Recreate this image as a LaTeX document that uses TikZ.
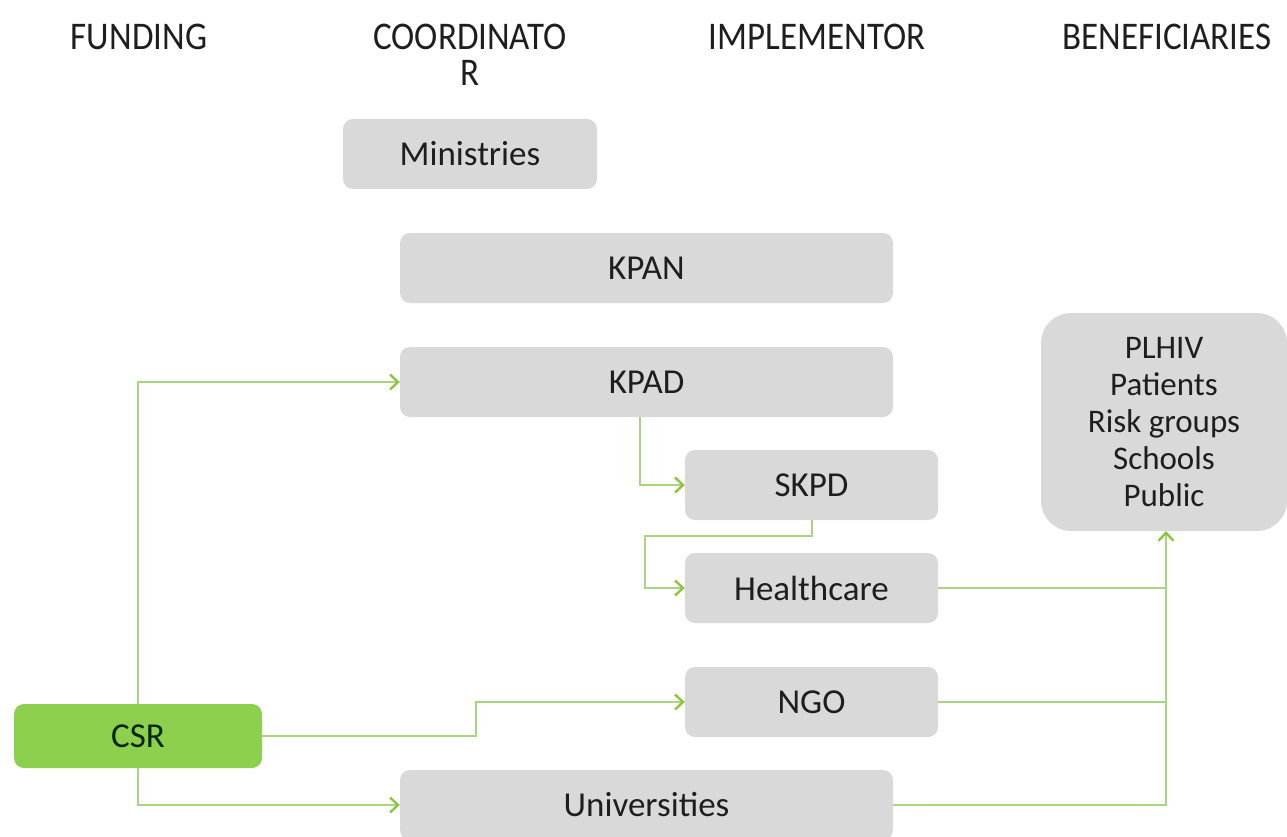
\documentclass[tikz,border=0pt]{standalone}
\usepackage{fontspec}
\usepackage{graphicx}
\setmainfont{Carlito}
\usetikzlibrary{arrows.meta}
\definecolor{boxgray}{HTML}{D9D9D9}
\definecolor{csrgreen}{HTML}{8DD04E}
\definecolor{linegreen}{HTML}{A9D481}
\definecolor{tipgreen}{HTML}{8CC63F}
\definecolor{txt}{HTML}{1E1E1E}
\newcommand\hdrtext[1]{\scalebox{1}[1.12]{#1}}
\tikzset{
  gbox/.style={fill=boxgray, rounded corners=10pt, inner sep=0pt, text=txt, font=\fontsize{35}{40}\selectfont},
  hdr/.style={text=txt, font=\fontsize{35}{43}\selectfont, align=center, inner sep=0pt, anchor=base},
  conn/.style={draw=linegreen, line width=1.5pt},
  arr/.style={conn, -{Straight Barb[length=8pt,width=15pt,line width=2.4pt,color=tipgreen]}}
}
\begin{document}
\begin{tikzpicture}[x=1pt,y=-1pt]
\useasboundingbox (0,0) rectangle (1287,837);
\node[hdr] (h1) at (139,50) {\hdrtext{FUNDING}};
\node[hdr] (h2) at (470,50) {\hdrtext{COORDINATO}};
\node[hdr] (h2b) at (470,86) {\hdrtext{R}};
\node[hdr] (h3) at (817,50) {\hdrtext{IMPLEMENTOR}};
\node[hdr] (h4) at (1167,50) {\hdrtext{BENEFICIARIES}};

\node[gbox, minimum width=254pt, minimum height=70pt] (min) at (470,154) {Ministries};
\node[gbox, minimum width=493pt, minimum height=70pt] (kpan) at (646.5,268) {KPAN};
\node[gbox, minimum width=493pt, minimum height=70pt] (kpad) at (646.5,382) {KPAD};
\node[gbox, minimum width=253pt, minimum height=70pt] (skpd) at (811.5,485) {SKPD};
\node[gbox, minimum width=253pt, minimum height=70pt] (hc) at (811.5,588) {Healthcare};
\node[gbox, minimum width=253pt, minimum height=70pt] (ngo) at (811.5,702) {NGO};
\node[gbox, minimum width=493pt, minimum height=70pt] (uni) at (646.5,805) {Universities};
\node[gbox, fill=csrgreen, minimum width=248pt, minimum height=64pt, text=black!85!green] (csr) at (138,736) {CSR};
\node[gbox, rounded corners=30pt, minimum width=246pt, minimum height=218pt, align=center,
      font=\fontsize{33}{37}\selectfont] (ben) at (1164,422) {PLHIV\\Patients\\Risk groups\\Schools\\Public};

\coordinate (j) at (1166,588);
\coordinate (bt) at (1166,531);
\draw[arr] (csr.north) |- (kpad.west);
\draw[arr] (csr.south) |- (uni.west);
\draw[arr] (csr.east) -- (476,736) |- (ngo.west);
\draw[arr] (640,417) |- (skpd.west);
\draw[arr] (812,520) -- (812,536) -- (645,536) |- (hc.west);
\draw[conn] (hc.east) -- (j);
\draw[conn] (ngo.east) -- (1166,702);
\draw[conn] (uni.east) -| (j);
\draw[arr] (j) -- (bt);
\end{tikzpicture}
\end{document}
